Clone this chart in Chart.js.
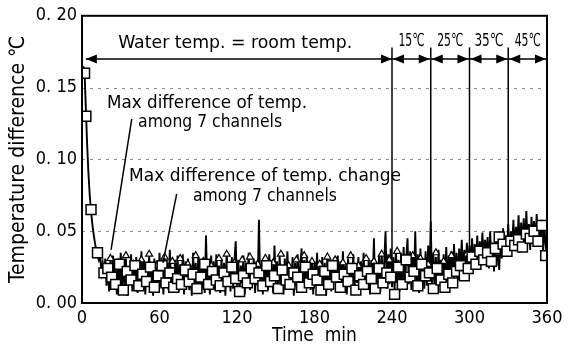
<!DOCTYPE html>
<html>
<head>
<meta charset="utf-8">
<script src="https://cdn.jsdelivr.net/npm/chart.js@4.4.0/dist/chart.umd.min.js"></script>
<style>
  html, body { margin: 0; padding: 0; background: #fff; }
</style>
</head>
<body>
<canvas id="grafica" width="568" height="347"></canvas>
<script>
const FONT = '"Liberation Sans Narrow", "DejaVu Sans Condensed", "Liberation Sans", sans-serif';

// Ejes
const xTicks = [0, 60, 120, 180, 240, 300, 360];
const yTicks = [0, 0.05, 0.10, 0.15, 0.20];

// Periodos de temperatura del agua (min)
const periods = ["15℃", "25℃", "35℃", "45℃"];
const periodStart = [240, 270, 300, 330];
const periodEnd = [270, 300, 330, 360];
const dividerBottom = [0.03, 0.04, 0.035, 0.05];

// Max difference of temp. (cuadrados)
const squareTime = [2, 3, 7, 12, 17,
  20, 23, 26, 29, 32, 35, 38, 41, 44, 47, 50, 53, 56, 59,
  62, 65, 68, 71, 74, 77, 80, 83, 86, 89, 92, 95, 98, 101, 104, 107, 110, 113, 116, 119,
  122, 125, 128, 131, 134, 137, 140, 143, 146, 149, 152, 155, 158, 161, 164, 167, 170, 173, 176, 179,
  182, 185, 188, 191, 194, 197, 200, 203, 206, 209, 212, 215, 218, 221, 224, 227, 230, 233, 236, 239,
  242, 245, 248, 251, 254, 257, 260, 263, 266, 269, 272, 275, 278, 281, 284, 287, 290, 293, 296, 299,
  302, 305, 308, 311, 314, 317, 320, 323, 326, 329, 332, 335, 338, 341, 344, 347, 350, 353, 356, 359];
const squareValues = [0.160, 0.130, 0.065, 0.035, 0.021,
  0.024, 0.018, 0.013, 0.027, 0.009, 0.022, 0.016, 0.026, 0.012, 0.020, 0.015, 0.025, 0.011, 0.019,
  0.026, 0.014, 0.021, 0.011, 0.017, 0.013, 0.023, 0.015, 0.020, 0.010, 0.018, 0.027, 0.013, 0.022, 0.016, 0.012, 0.021, 0.015, 0.025, 0.017,
  0.008, 0.019, 0.014, 0.024, 0.017, 0.021, 0.012, 0.026, 0.015, 0.019, 0.010, 0.023, 0.016, 0.013, 0.021, 0.018, 0.011, 0.025, 0.014, 0.020,
  0.016, 0.009, 0.022, 0.013, 0.026, 0.018, 0.011, 0.020, 0.015, 0.024, 0.009, 0.019, 0.013, 0.022, 0.017, 0.010, 0.024, 0.014, 0.021, 0.018,
  0.006, 0.025, 0.013, 0.030, 0.018, 0.022, 0.012, 0.027, 0.019, 0.021, 0.010, 0.024, 0.016, 0.011, 0.020, 0.014, 0.022, 0.026, 0.019, 0.024,
  0.032, 0.027, 0.036, 0.030, 0.035, 0.029, 0.038, 0.046, 0.041, 0.036, 0.043, 0.040, 0.044, 0.039, 0.048, 0.045, 0.050, 0.043, 0.054, 0.033];

// Triangulos sobre la banda
const triTime = [22, 28, 34, 40, 46, 52, 58, 64, 70, 76,
  82, 88, 94, 100, 106, 112, 118, 124, 130, 136,
  142, 148, 154, 160, 166, 172, 178, 184, 190, 196,
  202, 208, 214, 220, 226, 232, 238, 244, 250, 256,
  262, 268, 274, 280, 286, 292, 298, 304, 310, 316,
  322, 328, 334, 340, 346, 352];
const triValues = [0.031, 0.028, 0.033, 0.027, 0.030, 0.034, 0.026, 0.032, 0.029, 0.031,
  0.027, 0.033, 0.029, 0.026, 0.031, 0.034, 0.028, 0.030, 0.032, 0.027,
  0.031, 0.028, 0.034, 0.026, 0.030, 0.033, 0.029, 0.027, 0.032, 0.030,
  0.028, 0.033, 0.026, 0.031, 0.029, 0.034, 0.030, 0.036, 0.028, 0.033,
  0.031, 0.027, 0.035, 0.029, 0.033, 0.026, 0.034, 0.028, 0.036, 0.038,
  0.035, 0.042, 0.045, 0.040, 0.050, 0.047];

// Max difference of temp. change, cada minuto desde t = 1
const changeValues = [
  0.165, 0.160, 0.135, 0.110, 0.090, 0.075, 0.064, 0.055, 0.048, 0.042, 0.037, 0.033, 0.030, 0.034, 0.022, 0.028, 0.018, 0.031, 0.012, 0.026,
  0.008, 0.030, 0.014, 0.033, 0.010, 0.024, 0.006, 0.029, 0.015, 0.035, 0.009, 0.027, 0.012, 0.031, 0.005, 0.025, 0.013, 0.034, 0.008, 0.028,
  0.011, 0.032, 0.007, 0.026, 0.014, 0.036, 0.009, 0.030, 0.006, 0.027, 0.012, 0.033, 0.010, 0.024, 0.005, 0.031, 0.013, 0.029, 0.008, 0.035,
  0.011, 0.026, 0.006, 0.032, 0.014, 0.028, 0.009, 0.037, 0.012, 0.025, 0.007, 0.030, 0.015, 0.033, 0.008, 0.027, 0.011, 0.034, 0.006, 0.029,
  0.013, 0.031, 0.009, 0.026, 0.005, 0.035, 0.012, 0.028, 0.008, 0.032, 0.014, 0.025, 0.010, 0.030, 0.007, 0.047, 0.011, 0.027, 0.006, 0.033,
  0.012, 0.029, 0.009, 0.034, 0.014, 0.026, 0.007, 0.031, 0.011, 0.028, 0.005, 0.036, 0.013, 0.027, 0.008, 0.032, 0.010, 0.029, 0.043, 0.012,
  0.030, 0.008, 0.026, 0.014, 0.033, 0.006, 0.028, 0.011, 0.035, 0.009, 0.025, 0.013, 0.031, 0.007, 0.029, 0.012, 0.058, 0.010, 0.027, 0.006,
  0.032, 0.013, 0.028, 0.009, 0.034, 0.011, 0.026, 0.007, 0.040, 0.014, 0.029, 0.008, 0.033, 0.012, 0.025, 0.006, 0.031, 0.010, 0.036, 0.013,
  0.027, 0.009, 0.032, 0.005, 0.028, 0.012, 0.034, 0.008, 0.026, 0.038, 0.011, 0.030, 0.007, 0.033, 0.014, 0.027, 0.009, 0.031, 0.006, 0.029,
  0.012, 0.035, 0.008, 0.026, 0.013, 0.032, 0.010, 0.028, 0.005, 0.034, 0.011, 0.027, 0.008, 0.030, 0.014, 0.025, 0.007, 0.033, 0.012, 0.029,
  0.009, 0.036, 0.011, 0.026, 0.006, 0.031, 0.013, 0.028, 0.008, 0.034, 0.010, 0.027, 0.014, 0.032, 0.007, 0.029, 0.012, 0.035, 0.009, 0.026,
  0.013, 0.031, 0.006, 0.030, 0.011, 0.045, 0.009, 0.028, 0.014, 0.033, 0.008, 0.036, 0.012, 0.029, 0.050, 0.010, 0.034, 0.013, 0.038, 0.011,
  0.032, 0.009, 0.037, 0.014, 0.030, 0.008, 0.035, 0.012, 0.039, 0.010, 0.031, 0.045, 0.013, 0.036, 0.009, 0.033, 0.015, 0.050, 0.011, 0.034,
  0.007, 0.038, 0.014, 0.031, 0.010, 0.036, 0.012, 0.040, 0.015, 0.057, 0.011, 0.035, 0.013, 0.032, 0.009, 0.037, 0.016, 0.030, 0.012, 0.034,
  0.014, 0.039, 0.011, 0.033, 0.017, 0.036, 0.013, 0.041, 0.019, 0.035, 0.016, 0.038, 0.021, 0.044, 0.018, 0.037, 0.024, 0.042, 0.022, 0.040,
  0.026, 0.045, 0.023, 0.041, 0.028, 0.047, 0.025, 0.043, 0.030, 0.049, 0.027, 0.044, 0.031, 0.046, 0.024, 0.050, 0.029, 0.042, 0.022, 0.047,
  0.026, 0.044, 0.023, 0.048, 0.031, 0.052, 0.034, 0.047, 0.037, 0.055, 0.033, 0.050, 0.039, 0.058, 0.036, 0.053, 0.040, 0.061, 0.035, 0.056,
  0.042, 0.059, 0.038, 0.064, 0.041, 0.055, 0.037, 0.060, 0.043, 0.057, 0.039, 0.062, 0.044, 0.054, 0.040, 0.058, 0.036, 0.052, 0.041, 0.048
];
const changeTime = changeValues.map((v, i) => i + 1);

// Textos del grafico (posicion en unidades de datos)
const notes = [
  { text: "Water temp. = room temp.", x: 28, y: 0.181, w: 234 },
  { text: "Max difference of temp.", x: 19.4, y: 0.139, w: 200 },
  { text: "among 7 channels", x: 43.4, y: 0.1255, w: 144 },
  { text: "Max difference of temp. change", x: 36.4, y: 0.088, w: 272 },
  { text: "among 7 channels", x: 85.9, y: 0.0745, w: 144 }
];
const leaders = [
  { x1: 38.5, y1: 0.128, x2: 22.5, y2: 0.037 },
  { x1: 73.3, y1: 0.076, x2: 62.7, y2: 0.028 }
];

function pts(xs, ys) {
  return xs.map((x, i) => ({ x: x, y: ys[i] }));
}

function fitText(ctx, text, x, y, w) {
  ctx.save();
  ctx.font = "18px " + FONT;
  const m = ctx.measureText(text).width;
  ctx.translate(x, y);
  ctx.scale(w / m, 1);
  ctx.textBaseline = "middle";
  ctx.textAlign = "left";
  ctx.fillStyle = "#000";
  ctx.fillText(text, 0, 0);
  ctx.restore();
}

function arrowHead(ctx, tipX, y, dir) {
  ctx.beginPath();
  ctx.moveTo(tipX, y);
  ctx.lineTo(tipX - dir * 11, y - 4.5);
  ctx.lineTo(tipX - dir * 11, y + 4.5);
  ctx.closePath();
  ctx.fill();
}

const decoracion = {
  id: "decoracion",
  beforeDatasetsDraw(chart) {
    const { ctx, chartArea: a, scales: { y } } = chart;
    ctx.save();
    ctx.strokeStyle = "#8a8a8a";
    ctx.lineWidth = 1;
    ctx.setLineDash([3, 5]);
    yTicks.slice(1, -1).forEach(v => {
      const py = Math.round(y.getPixelForValue(v)) + 0.5;
      ctx.beginPath();
      ctx.moveTo(a.left, py);
      ctx.lineTo(a.right, py);
      ctx.stroke();
    });
    ctx.restore();
  },
  afterDatasetsDraw(chart) {
    const { ctx, chartArea: a, scales: { x, y } } = chart;
    ctx.save();
    ctx.strokeStyle = "#000";
    ctx.fillStyle = "#000";

    // Marco
    ctx.lineWidth = 2;
    ctx.strokeRect(a.left, a.top, a.right - a.left, a.bottom - a.top);

    // Flechas de periodos
    const ay = y.getPixelForValue(0.17);
    ctx.lineWidth = 1.5;
    ctx.beginPath();
    ctx.moveTo(x.getPixelForValue(3), ay);
    ctx.lineTo(x.getPixelForValue(240), ay);
    ctx.stroke();
    arrowHead(ctx, x.getPixelForValue(3), ay, -1);
    arrowHead(ctx, x.getPixelForValue(240), ay, 1);

    periods.forEach((p, i) => {
      const x0 = x.getPixelForValue(periodStart[i]);
      const x1 = x.getPixelForValue(periodEnd[i]);
      ctx.beginPath();
      ctx.moveTo(x0, ay);
      ctx.lineTo(x1, ay);
      ctx.stroke();
      arrowHead(ctx, x0 + 1, ay, -1);
      arrowHead(ctx, x1 - 1, ay, 1);
      // linea divisoria
      ctx.beginPath();
      ctx.moveTo(x0, y.getPixelForValue(0.178));
      ctx.lineTo(x0, y.getPixelForValue(dividerBottom[i]));
      ctx.stroke();
      const w = i === 2 ? 29 : 26;
      fitText(ctx, p, (x0 + x1) / 2 - w / 2, y.getPixelForValue(0.182), w);
    });

    notes.forEach(n => fitText(ctx, n.text, x.getPixelForValue(n.x), y.getPixelForValue(n.y), n.w));

    ctx.lineWidth = 1.5;
    leaders.forEach(l => {
      ctx.beginPath();
      ctx.moveTo(x.getPixelForValue(l.x1), y.getPixelForValue(l.y1));
      ctx.lineTo(x.getPixelForValue(l.x2), y.getPixelForValue(l.y2));
      ctx.stroke();
    });
    ctx.restore();
  }
};

new Chart(document.getElementById("grafica"), {
  type: "scatter",
  data: {
    datasets: [
      {
        label: "Max difference of temp.",
        data: pts(squareTime, squareValues),
        pointStyle: "rect",
        pointRadius: 7,
        borderWidth: 1.5,
        borderColor: "#000",
        backgroundColor: "#fff",
        showLine: false,
        order: 0
      },
      {
        label: "triangles",
        data: pts(triTime, triValues),
        pointStyle: "triangle",
        pointRadius: 4,
        borderWidth: 1.2,
        borderColor: "#000",
        backgroundColor: "#fff",
        showLine: false,
        order: 1
      },
      {
        label: "Max difference of temp. change",
        data: pts(changeTime, changeValues),
        showLine: true,
        borderColor: "#000",
        borderWidth: 1.9,
        pointRadius: 0,
        order: 2
      }
    ]
  },
  options: {
    responsive: false,
    animation: false,
    layout: { padding: { left: 0, top: 14, right: 21, bottom: 0 } },
    plugins: { legend: { display: false }, tooltip: { enabled: false } },
    scales: {
      x: {
        type: "linear",
        min: 0,
        max: 360,
        afterFit: s => { s.height = 44; },
        afterBuildTicks: s => { s.ticks = xTicks.map(v => ({ value: v })); },
        grid: { display: false, drawTicks: false },
        border: { display: false },
        ticks: { color: "#000", padding: 5, maxRotation: 0, font: { family: FONT, size: 18 } },
        title: {
          display: true,
          text: "Time  min",
          color: "#000",
          padding: { top: 0, bottom: 0 },
          font: { family: FONT, size: 19 }
        }
      },
      y: {
        min: 0,
        max: 0.2,
        afterFit: s => { s.width = 82; },
        afterBuildTicks: s => { s.ticks = yTicks.map(v => ({ value: v })); },
        grid: { display: false, drawTicks: false },
        border: { display: false },
        ticks: {
          color: "#000",
          padding: 5,
          font: { family: FONT, size: 18 },
          callback: v => v.toFixed(2).replace(".", ". ")
        },
        title: {
          display: true,
          text: "Temperature difference ℃",
          color: "#000",
          padding: { top: 6, bottom: 0 },
          font: { family: FONT, size: 21 }
        }
      }
    }
  },
  plugins: [decoracion]
});
</script>
</body>
</html>
